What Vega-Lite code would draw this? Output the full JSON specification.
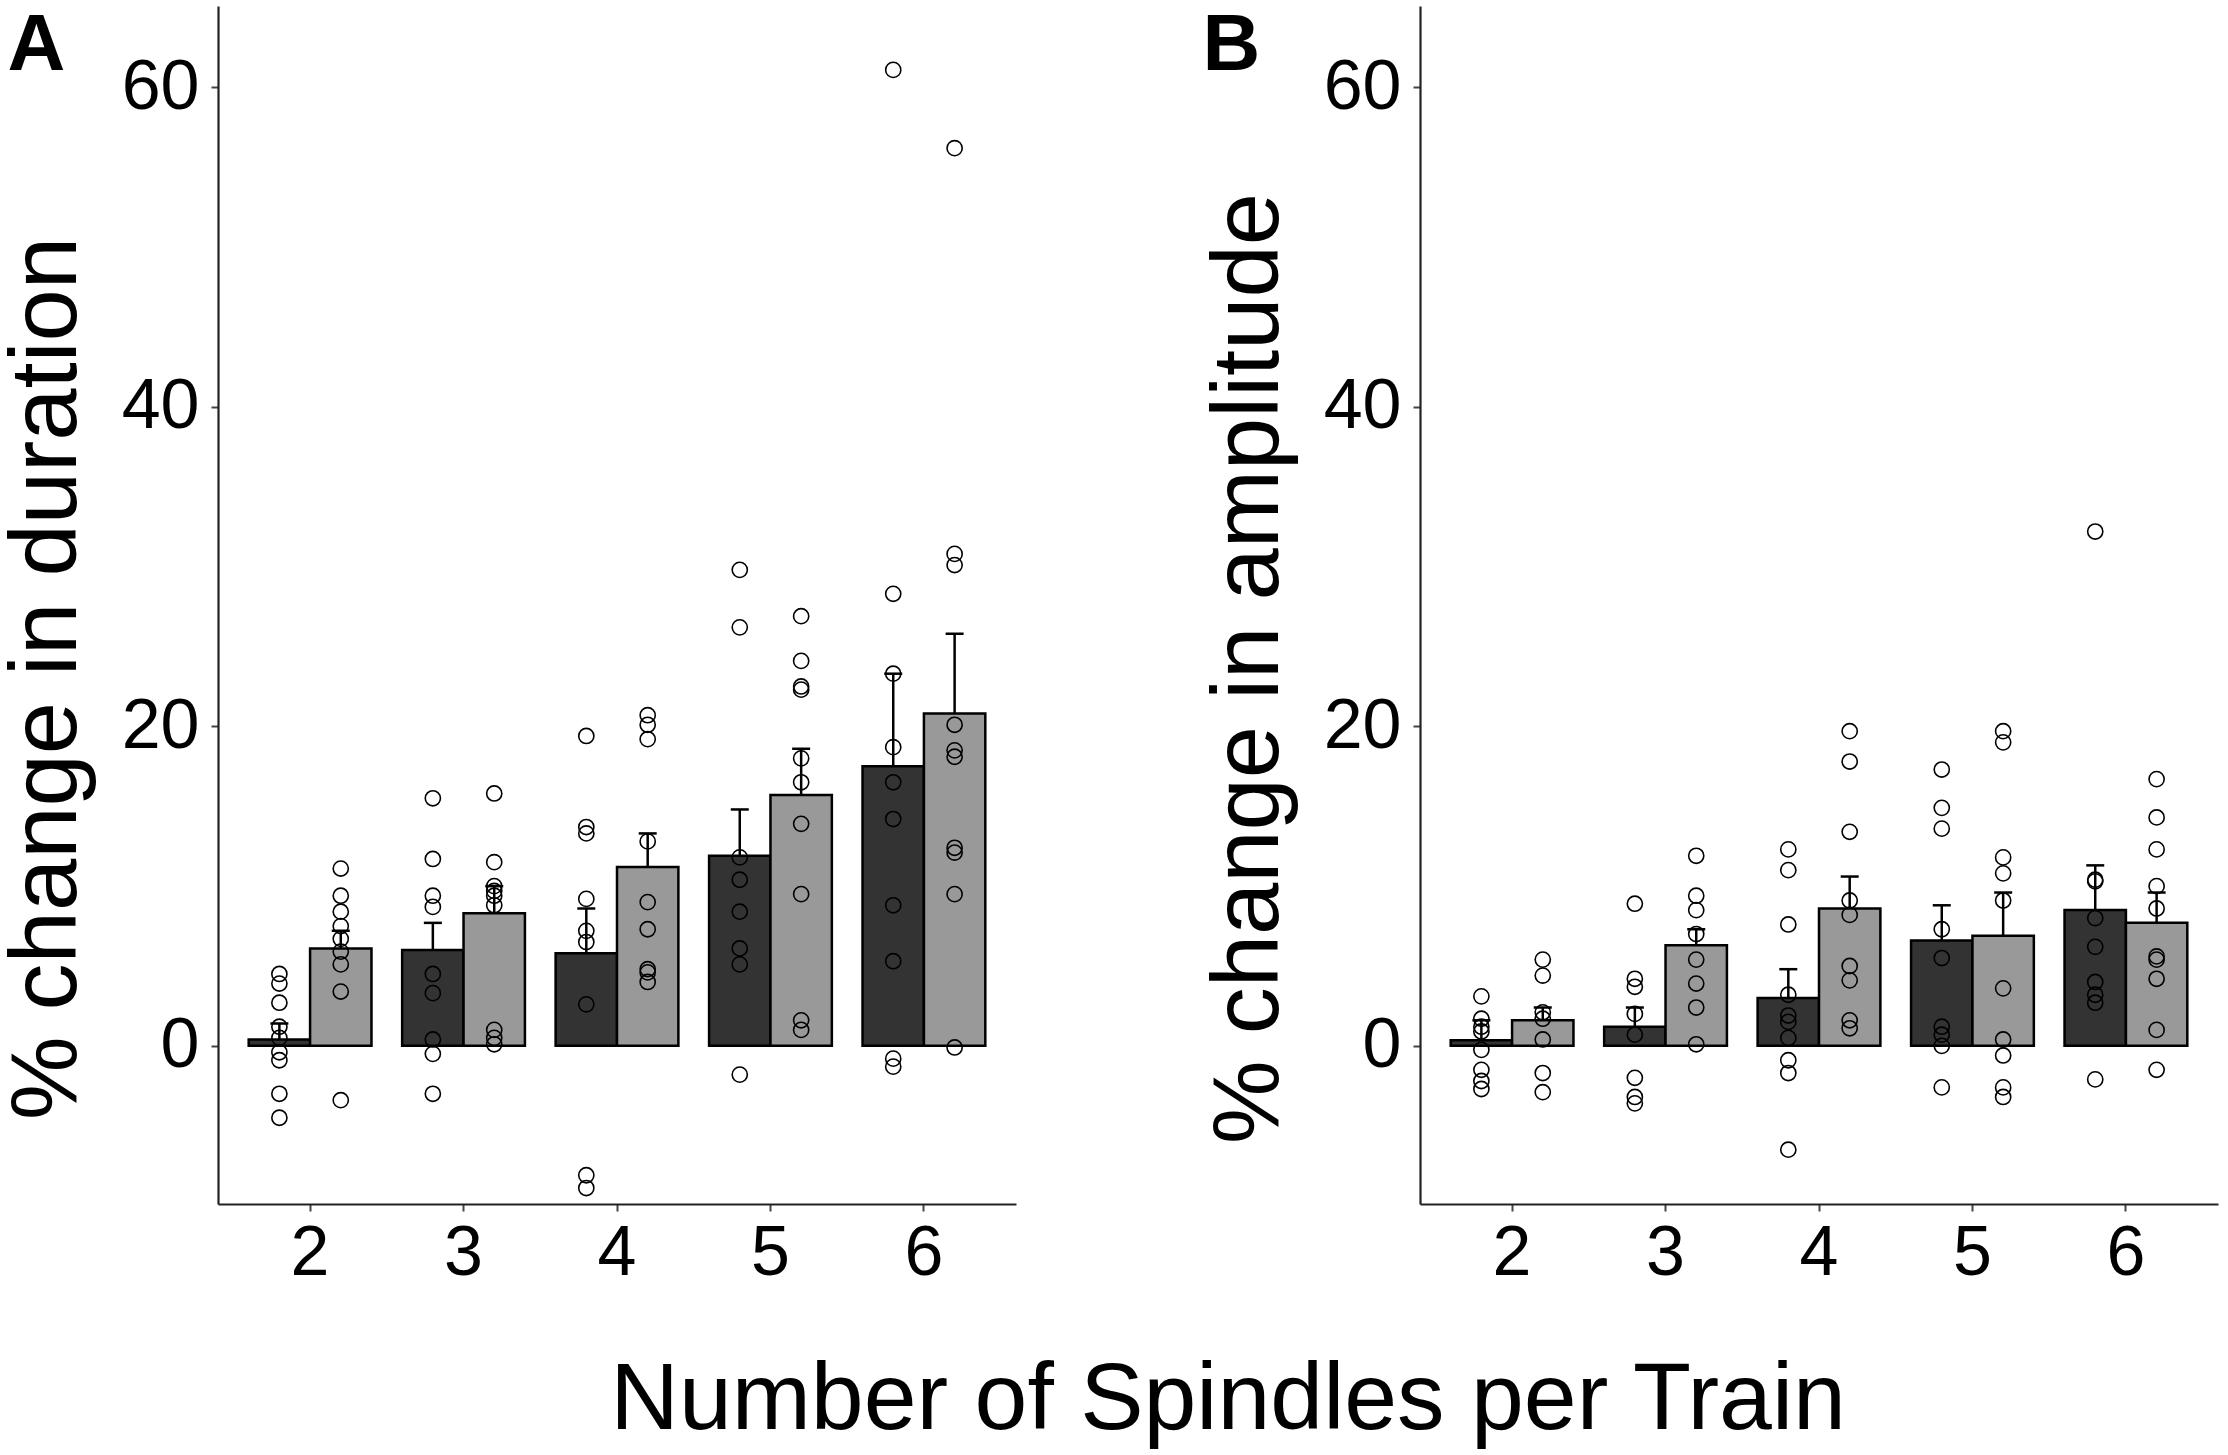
{
  "$schema": "https://vega.github.io/schema/vega-lite/v6.json",
  "background": "white",
  "padding": {"left": 0, "top": 5, "right": 5, "bottom": 5},
  "config": {
    "font": "Liberation Sans",
    "view": {"stroke": null},
    "axis": {
      "grid": false,
      "domainColor": "#222222",
      "domainWidth": 2.2,
      "tickColor": "#444444",
      "tickWidth": 2,
      "tickSize": 7,
      "labelFont": "Liberation Sans",
      "labelFontSize": 70,
      "labelColor": "black",
      "labelPadding": 12,
      "titleFont": "Liberation Sans",
      "titleFontSize": 94,
      "titleFontWeight": "normal",
      "titleColor": "black"
    },
    "title": {"font": "Liberation Sans", "color": "black"}
  },
  "title": {
    "text": "Number of Spindles per Train",
    "orient": "bottom",
    "anchor": "middle",
    "fontSize": 95,
    "fontWeight": "normal",
    "offset": 66,
    "dx": 119
  },
  "spacing": 186,
  "datasets": {
    "bars": [
      {"m": "dur", "n": 2, "g": "G1", "mean": 0.4, "hi": 1.4},
      {"m": "dur", "n": 2, "g": "G2", "mean": 6.1, "hi": 7.2},
      {"m": "dur", "n": 3, "g": "G1", "mean": 6.0, "hi": 7.7},
      {"m": "dur", "n": 3, "g": "G2", "mean": 8.3, "hi": 10.0},
      {"m": "dur", "n": 4, "g": "G1", "mean": 5.8, "hi": 8.6},
      {"m": "dur", "n": 4, "g": "G2", "mean": 11.2, "hi": 13.3},
      {"m": "dur", "n": 5, "g": "G1", "mean": 11.9, "hi": 14.8},
      {"m": "dur", "n": 5, "g": "G2", "mean": 15.7, "hi": 18.6},
      {"m": "dur", "n": 6, "g": "G1", "mean": 17.5, "hi": 23.3},
      {"m": "dur", "n": 6, "g": "G2", "mean": 20.8, "hi": 25.8},
      {"m": "amp", "n": 2, "g": "G1", "mean": 0.35, "hi": 1.6},
      {"m": "amp", "n": 2, "g": "G2", "mean": 1.6, "hi": 2.4},
      {"m": "amp", "n": 3, "g": "G1", "mean": 1.2, "hi": 2.4},
      {"m": "amp", "n": 3, "g": "G2", "mean": 6.3, "hi": 7.3},
      {"m": "amp", "n": 4, "g": "G1", "mean": 3.0, "hi": 4.8},
      {"m": "amp", "n": 4, "g": "G2", "mean": 8.6, "hi": 10.6},
      {"m": "amp", "n": 5, "g": "G1", "mean": 6.6, "hi": 8.8},
      {"m": "amp", "n": 5, "g": "G2", "mean": 6.9, "hi": 9.6},
      {"m": "amp", "n": 6, "g": "G1", "mean": 8.5, "hi": 11.3},
      {"m": "amp", "n": 6, "g": "G2", "mean": 7.7, "hi": 9.6}
    ],
    "points": [
      {"m": "dur", "n": 2, "g": "G1", "v": 4.5}, {"m": "dur", "n": 2, "g": "G1", "v": 3.9}, {"m": "dur", "n": 2, "g": "G1", "v": 2.7},
      {"m": "dur", "n": 2, "g": "G1", "v": 1.2}, {"m": "dur", "n": 2, "g": "G1", "v": 0.5}, {"m": "dur", "n": 2, "g": "G1", "v": -0.4},
      {"m": "dur", "n": 2, "g": "G1", "v": -0.9}, {"m": "dur", "n": 2, "g": "G1", "v": -3.0}, {"m": "dur", "n": 2, "g": "G1", "v": -4.5},
      {"m": "dur", "n": 2, "g": "G2", "v": 11.1}, {"m": "dur", "n": 2, "g": "G2", "v": 9.4}, {"m": "dur", "n": 2, "g": "G2", "v": 8.4},
      {"m": "dur", "n": 2, "g": "G2", "v": 7.5}, {"m": "dur", "n": 2, "g": "G2", "v": 6.7}, {"m": "dur", "n": 2, "g": "G2", "v": 5.9},
      {"m": "dur", "n": 2, "g": "G2", "v": 5.1}, {"m": "dur", "n": 2, "g": "G2", "v": 3.4}, {"m": "dur", "n": 2, "g": "G2", "v": -3.4},
      {"m": "dur", "n": 3, "g": "G1", "v": 15.5}, {"m": "dur", "n": 3, "g": "G1", "v": 11.7}, {"m": "dur", "n": 3, "g": "G1", "v": 9.4},
      {"m": "dur", "n": 3, "g": "G1", "v": 8.7}, {"m": "dur", "n": 3, "g": "G1", "v": 4.5}, {"m": "dur", "n": 3, "g": "G1", "v": 3.3},
      {"m": "dur", "n": 3, "g": "G1", "v": 0.4}, {"m": "dur", "n": 3, "g": "G1", "v": -0.5}, {"m": "dur", "n": 3, "g": "G1", "v": -3.0},
      {"m": "dur", "n": 3, "g": "G2", "v": 15.8}, {"m": "dur", "n": 3, "g": "G2", "v": 11.5}, {"m": "dur", "n": 3, "g": "G2", "v": 10.0},
      {"m": "dur", "n": 3, "g": "G2", "v": 9.7}, {"m": "dur", "n": 3, "g": "G2", "v": 9.4}, {"m": "dur", "n": 3, "g": "G2", "v": 8.8},
      {"m": "dur", "n": 3, "g": "G2", "v": 1.0}, {"m": "dur", "n": 3, "g": "G2", "v": 0.5}, {"m": "dur", "n": 3, "g": "G2", "v": 0.1},
      {"m": "dur", "n": 4, "g": "G1", "v": 19.4}, {"m": "dur", "n": 4, "g": "G1", "v": 13.7}, {"m": "dur", "n": 4, "g": "G1", "v": 13.3},
      {"m": "dur", "n": 4, "g": "G1", "v": 9.2}, {"m": "dur", "n": 4, "g": "G1", "v": 7.2}, {"m": "dur", "n": 4, "g": "G1", "v": 6.5},
      {"m": "dur", "n": 4, "g": "G1", "v": 2.6}, {"m": "dur", "n": 4, "g": "G1", "v": -8.1}, {"m": "dur", "n": 4, "g": "G1", "v": -8.9},
      {"m": "dur", "n": 4, "g": "G2", "v": 20.7}, {"m": "dur", "n": 4, "g": "G2", "v": 20.1}, {"m": "dur", "n": 4, "g": "G2", "v": 19.2},
      {"m": "dur", "n": 4, "g": "G2", "v": 12.8}, {"m": "dur", "n": 4, "g": "G2", "v": 9.0}, {"m": "dur", "n": 4, "g": "G2", "v": 7.3},
      {"m": "dur", "n": 4, "g": "G2", "v": 4.8}, {"m": "dur", "n": 4, "g": "G2", "v": 4.6}, {"m": "dur", "n": 4, "g": "G2", "v": 4.0},
      {"m": "dur", "n": 5, "g": "G1", "v": 29.8}, {"m": "dur", "n": 5, "g": "G1", "v": 26.2}, {"m": "dur", "n": 5, "g": "G1", "v": 11.8},
      {"m": "dur", "n": 5, "g": "G1", "v": 10.4}, {"m": "dur", "n": 5, "g": "G1", "v": 8.4}, {"m": "dur", "n": 5, "g": "G1", "v": 6.1},
      {"m": "dur", "n": 5, "g": "G1", "v": 5.1}, {"m": "dur", "n": 5, "g": "G1", "v": -1.8},
      {"m": "dur", "n": 5, "g": "G2", "v": 26.9}, {"m": "dur", "n": 5, "g": "G2", "v": 24.1}, {"m": "dur", "n": 5, "g": "G2", "v": 22.5},
      {"m": "dur", "n": 5, "g": "G2", "v": 22.3}, {"m": "dur", "n": 5, "g": "G2", "v": 18.0}, {"m": "dur", "n": 5, "g": "G2", "v": 16.5},
      {"m": "dur", "n": 5, "g": "G2", "v": 13.9}, {"m": "dur", "n": 5, "g": "G2", "v": 9.5}, {"m": "dur", "n": 5, "g": "G2", "v": 1.6},
      {"m": "dur", "n": 5, "g": "G2", "v": 1.0},
      {"m": "dur", "n": 6, "g": "G1", "v": 61.1}, {"m": "dur", "n": 6, "g": "G1", "v": 28.3}, {"m": "dur", "n": 6, "g": "G1", "v": 23.3},
      {"m": "dur", "n": 6, "g": "G1", "v": 18.7}, {"m": "dur", "n": 6, "g": "G1", "v": 16.5}, {"m": "dur", "n": 6, "g": "G1", "v": 14.2},
      {"m": "dur", "n": 6, "g": "G1", "v": 8.8}, {"m": "dur", "n": 6, "g": "G1", "v": 5.3}, {"m": "dur", "n": 6, "g": "G1", "v": -0.8},
      {"m": "dur", "n": 6, "g": "G1", "v": -1.3},
      {"m": "dur", "n": 6, "g": "G2", "v": 56.2}, {"m": "dur", "n": 6, "g": "G2", "v": 30.8}, {"m": "dur", "n": 6, "g": "G2", "v": 30.1},
      {"m": "dur", "n": 6, "g": "G2", "v": 20.1}, {"m": "dur", "n": 6, "g": "G2", "v": 18.5}, {"m": "dur", "n": 6, "g": "G2", "v": 18.1},
      {"m": "dur", "n": 6, "g": "G2", "v": 12.4}, {"m": "dur", "n": 6, "g": "G2", "v": 12.1}, {"m": "dur", "n": 6, "g": "G2", "v": 9.5},
      {"m": "dur", "n": 6, "g": "G2", "v": -0.1},
      {"m": "amp", "n": 2, "g": "G1", "v": 3.1}, {"m": "amp", "n": 2, "g": "G1", "v": 1.7}, {"m": "amp", "n": 2, "g": "G1", "v": 1.2},
      {"m": "amp", "n": 2, "g": "G1", "v": 0.9}, {"m": "amp", "n": 2, "g": "G1", "v": -0.25}, {"m": "amp", "n": 2, "g": "G1", "v": -1.5},
      {"m": "amp", "n": 2, "g": "G1", "v": -2.2}, {"m": "amp", "n": 2, "g": "G1", "v": -2.7},
      {"m": "amp", "n": 2, "g": "G2", "v": 5.4}, {"m": "amp", "n": 2, "g": "G2", "v": 4.4}, {"m": "amp", "n": 2, "g": "G2", "v": 2.1},
      {"m": "amp", "n": 2, "g": "G2", "v": 1.7}, {"m": "amp", "n": 2, "g": "G2", "v": 0.4}, {"m": "amp", "n": 2, "g": "G2", "v": -1.7},
      {"m": "amp", "n": 2, "g": "G2", "v": -2.9},
      {"m": "amp", "n": 3, "g": "G1", "v": 8.9}, {"m": "amp", "n": 3, "g": "G1", "v": 4.2}, {"m": "amp", "n": 3, "g": "G1", "v": 3.7},
      {"m": "amp", "n": 3, "g": "G1", "v": 2.0}, {"m": "amp", "n": 3, "g": "G1", "v": 0.7}, {"m": "amp", "n": 3, "g": "G1", "v": -2.0},
      {"m": "amp", "n": 3, "g": "G1", "v": -3.2}, {"m": "amp", "n": 3, "g": "G1", "v": -3.6},
      {"m": "amp", "n": 3, "g": "G2", "v": 11.9}, {"m": "amp", "n": 3, "g": "G2", "v": 9.4}, {"m": "amp", "n": 3, "g": "G2", "v": 8.5},
      {"m": "amp", "n": 3, "g": "G2", "v": 7.0}, {"m": "amp", "n": 3, "g": "G2", "v": 5.4}, {"m": "amp", "n": 3, "g": "G2", "v": 3.9},
      {"m": "amp", "n": 3, "g": "G2", "v": 2.4}, {"m": "amp", "n": 3, "g": "G2", "v": 0.1},
      {"m": "amp", "n": 4, "g": "G1", "v": 12.3}, {"m": "amp", "n": 4, "g": "G1", "v": 11.0}, {"m": "amp", "n": 4, "g": "G1", "v": 7.6},
      {"m": "amp", "n": 4, "g": "G1", "v": 3.2}, {"m": "amp", "n": 4, "g": "G1", "v": 1.9}, {"m": "amp", "n": 4, "g": "G1", "v": 1.5},
      {"m": "amp", "n": 4, "g": "G1", "v": 0.5}, {"m": "amp", "n": 4, "g": "G1", "v": -0.9}, {"m": "amp", "n": 4, "g": "G1", "v": -1.7},
      {"m": "amp", "n": 4, "g": "G1", "v": -6.5},
      {"m": "amp", "n": 4, "g": "G2", "v": 19.7}, {"m": "amp", "n": 4, "g": "G2", "v": 17.8}, {"m": "amp", "n": 4, "g": "G2", "v": 13.4},
      {"m": "amp", "n": 4, "g": "G2", "v": 9.1}, {"m": "amp", "n": 4, "g": "G2", "v": 8.2}, {"m": "amp", "n": 4, "g": "G2", "v": 5.0},
      {"m": "amp", "n": 4, "g": "G2", "v": 4.1}, {"m": "amp", "n": 4, "g": "G2", "v": 1.6}, {"m": "amp", "n": 4, "g": "G2", "v": 1.1},
      {"m": "amp", "n": 5, "g": "G1", "v": 17.3}, {"m": "amp", "n": 5, "g": "G1", "v": 14.9}, {"m": "amp", "n": 5, "g": "G1", "v": 13.6},
      {"m": "amp", "n": 5, "g": "G1", "v": 7.3}, {"m": "amp", "n": 5, "g": "G1", "v": 5.5}, {"m": "amp", "n": 5, "g": "G1", "v": 1.2},
      {"m": "amp", "n": 5, "g": "G1", "v": 0.7}, {"m": "amp", "n": 5, "g": "G1", "v": 0.0}, {"m": "amp", "n": 5, "g": "G1", "v": -2.6},
      {"m": "amp", "n": 5, "g": "G2", "v": 19.7}, {"m": "amp", "n": 5, "g": "G2", "v": 19.0}, {"m": "amp", "n": 5, "g": "G2", "v": 11.8},
      {"m": "amp", "n": 5, "g": "G2", "v": 10.8}, {"m": "amp", "n": 5, "g": "G2", "v": 9.1}, {"m": "amp", "n": 5, "g": "G2", "v": 3.6},
      {"m": "amp", "n": 5, "g": "G2", "v": 0.4}, {"m": "amp", "n": 5, "g": "G2", "v": -0.6}, {"m": "amp", "n": 5, "g": "G2", "v": -2.6},
      {"m": "amp", "n": 5, "g": "G2", "v": -3.2},
      {"m": "amp", "n": 6, "g": "G1", "v": 32.2}, {"m": "amp", "n": 6, "g": "G1", "v": 10.4}, {"m": "amp", "n": 6, "g": "G1", "v": 10.3},
      {"m": "amp", "n": 6, "g": "G1", "v": 8.0}, {"m": "amp", "n": 6, "g": "G1", "v": 6.2}, {"m": "amp", "n": 6, "g": "G1", "v": 4.0},
      {"m": "amp", "n": 6, "g": "G1", "v": 3.2}, {"m": "amp", "n": 6, "g": "G1", "v": 2.7}, {"m": "amp", "n": 6, "g": "G1", "v": -2.1},
      {"m": "amp", "n": 6, "g": "G2", "v": 16.7}, {"m": "amp", "n": 6, "g": "G2", "v": 14.3}, {"m": "amp", "n": 6, "g": "G2", "v": 12.3},
      {"m": "amp", "n": 6, "g": "G2", "v": 10.0}, {"m": "amp", "n": 6, "g": "G2", "v": 8.6}, {"m": "amp", "n": 6, "g": "G2", "v": 5.6},
      {"m": "amp", "n": 6, "g": "G2", "v": 5.4}, {"m": "amp", "n": 6, "g": "G2", "v": 4.2}, {"m": "amp", "n": 6, "g": "G2", "v": 1.0},
      {"m": "amp", "n": 6, "g": "G2", "v": -1.5}
    ]
  },
  "hconcat": [
    {
      "width": 798,
      "height": 1198,
      "encoding": {
        "x": {
          "field": "n", "type": "ordinal", "title": "A",
          "scale": {"paddingInner": 0.2, "paddingOuter": 0.2},
          "axis": {"labelAngle": 0, "labelPadding": 8, "titleX": -211, "titleY": -1135, "titleAlign": "left", "titleBaseline": "alphabetic", "titleAngle": 0, "titleFontWeight": "bold", "titleFontSize": 80}
        },
        "xOffset": {"field": "g", "type": "nominal", "scale": {"paddingInner": 0, "paddingOuter": 0}}
      },
      "layer": [
        {
          "data": {"name": "bars"},
          "transform": [{"filter": "datum.m === 'dur'"}],
          "mark": {"type": "bar", "stroke": "black", "strokeWidth": 2.5},
          "encoding": {
            "y": {"field": "mean", "type": "quantitative", "title": "% change in duration", "scale": {"domain": [-9.9, 65.1], "nice": false, "zero": false}, "axis": {"values": [0, 20, 40, 60], "titlePadding": 26, "titleY": 672}},
            "y2": {"datum": 0},
            "fill": {"field": "g", "type": "nominal", "scale": {"domain": ["G1", "G2"], "range": ["#333333", "#999999"]}, "legend": null}
          }
        },
        {
          "data": {"name": "bars"},
          "transform": [{"filter": "datum.m === 'dur'"}],
          "mark": {"type": "rule", "color": "black", "strokeWidth": 2.5},
          "encoding": {
            "y": {"field": "mean", "type": "quantitative", "title": "% change in duration"},
            "y2": {"field": "hi"}
          }
        },
        {
          "data": {"name": "bars"},
          "transform": [{"filter": "datum.m === 'dur'"}],
          "mark": {"type": "tick", "color": "black", "thickness": 2.5, "size": 18, "opacity": 1},
          "encoding": {
            "y": {"field": "hi", "type": "quantitative", "title": "% change in duration"}
          }
        },
        {
          "data": {"name": "points"},
          "transform": [{"filter": "datum.m === 'dur'"}],
          "mark": {"type": "point", "shape": "circle", "filled": false, "stroke": "black", "strokeWidth": 1.6, "size": 230, "opacity": 1},
          "encoding": {
            "y": {"field": "v", "type": "quantitative", "title": "% change in duration"}
          }
        }
      ]
    },
    {
      "width": 798,
      "height": 1198,
      "encoding": {
        "x": {
          "field": "n", "type": "ordinal", "title": "B",
          "scale": {"paddingInner": 0.2, "paddingOuter": 0.2},
          "axis": {"labelAngle": 0, "labelPadding": 8, "titleX": -218, "titleY": -1135, "titleAlign": "left", "titleBaseline": "alphabetic", "titleAngle": 0, "titleFontWeight": "bold", "titleFontSize": 80}
        },
        "xOffset": {"field": "g", "type": "nominal", "scale": {"paddingInner": 0, "paddingOuter": 0}}
      },
      "layer": [
        {
          "data": {"name": "bars"},
          "transform": [{"filter": "datum.m === 'amp'"}],
          "mark": {"type": "bar", "stroke": "black", "strokeWidth": 2.5},
          "encoding": {
            "y": {"field": "mean", "type": "quantitative", "title": "% change in amplitude", "scale": {"domain": [-9.9, 65.1], "nice": false, "zero": false}, "axis": {"values": [0, 20, 40, 60], "titlePadding": 26, "titleY": 662}},
            "y2": {"datum": 0},
            "fill": {"field": "g", "type": "nominal", "scale": {"domain": ["G1", "G2"], "range": ["#333333", "#999999"]}, "legend": null}
          }
        },
        {
          "data": {"name": "bars"},
          "transform": [{"filter": "datum.m === 'amp'"}],
          "mark": {"type": "rule", "color": "black", "strokeWidth": 2.5},
          "encoding": {
            "y": {"field": "mean", "type": "quantitative", "title": "% change in amplitude"},
            "y2": {"field": "hi"}
          }
        },
        {
          "data": {"name": "bars"},
          "transform": [{"filter": "datum.m === 'amp'"}],
          "mark": {"type": "tick", "color": "black", "thickness": 2.5, "size": 18, "opacity": 1},
          "encoding": {
            "y": {"field": "hi", "type": "quantitative", "title": "% change in amplitude"}
          }
        },
        {
          "data": {"name": "points"},
          "transform": [{"filter": "datum.m === 'amp'"}],
          "mark": {"type": "point", "shape": "circle", "filled": false, "stroke": "black", "strokeWidth": 1.6, "size": 230, "opacity": 1},
          "encoding": {
            "y": {"field": "v", "type": "quantitative", "title": "% change in amplitude"}
          }
        }
      ]
    }
  ]
}
